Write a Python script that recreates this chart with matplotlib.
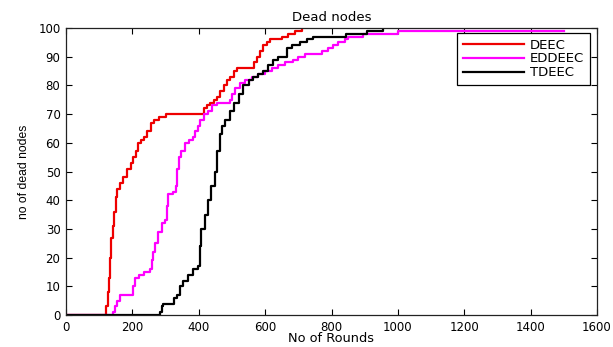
import matplotlib
matplotlib.use('Agg')
import matplotlib.pyplot as plt

# dead-node step curves (round, dead nodes)
deec_rounds = [0, 118, 122, 126, 130, 134, 137, 141, 145, 150, 155, 162, 172, 185, 195,
               202, 210, 218, 225, 235, 245, 255, 265, 280, 300, 410, 415, 425, 435,
               445, 455, 465, 475, 485, 495, 505, 515, 560, 565, 575, 585, 595, 605,
               615, 650, 670, 690, 710]
deec_dead = [0, 0, 3, 8, 13, 20, 27, 31, 36, 41, 44, 46, 48, 51, 53,
             55, 57, 60, 61, 62, 64, 67, 68, 69, 70, 70, 72, 73, 74,
             75, 76, 78, 80, 82, 83, 85, 86, 86, 88, 90, 92, 94, 95,
             96, 97, 98, 99, 100]

eddeec_rounds = [0, 142, 148, 155, 163, 198, 203, 208, 220, 235, 253, 258, 263, 268, 278,
                 288, 298, 303, 308, 323, 330, 333, 340, 348, 358, 370, 383, 390, 398,
                 403, 415, 428, 440, 454, 494, 500, 510, 524, 540, 560, 580, 600, 620,
                 640, 660, 685, 700, 720, 760, 770, 790, 805, 820, 840, 850, 870, 895,
                 960, 1000, 1500]
eddeec_dead = [0, 1, 3, 5, 7, 7, 10, 13, 14, 15, 16, 19, 22, 25, 29,
               32, 33, 38, 42, 43, 45, 51, 55, 57, 60, 61, 62, 64, 66,
               68, 70, 71, 73, 74, 75, 77, 79, 81, 82, 83, 84, 85, 86,
               87, 88, 89, 90, 91, 91, 92, 93, 94, 95, 96, 97, 97, 98,
               98, 99, 99]

tdeec_rounds = [0, 283, 288, 292, 318, 325, 333, 343, 353, 368, 383, 398, 403, 408, 418,
                428, 438, 449, 456, 464, 470, 480, 494, 505, 520, 534, 550, 564, 580,
                594, 610, 624, 640, 665, 680, 705, 725, 745, 800, 845, 906, 955]
tdeec_dead = [0, 1, 3, 4, 4, 6, 7, 10, 12, 14, 16, 17, 24, 30, 35,
              40, 45, 50, 57, 63, 66, 68, 71, 74, 77, 80, 82, 83, 84,
              85, 87, 89, 90, 93, 94, 95, 96, 97, 97, 98, 99, 100]

xticks = [0, 200, 400, 600, 800, 1000, 1200, 1400, 1600]
yticks = [0, 10, 20, 30, 40, 50, 60, 70, 80, 90, 100]

plt.rcParams['font.family'] = ['DejaVu Sans']
plt.rcParams['font.size'] = 8.5

fig = plt.figure(figsize=(6.13, 3.47), dpi=100)
ax = fig.add_axes([66 / 613, 32 / 347, 531 / 613, 287 / 347])

ax.plot(deec_rounds, deec_dead, drawstyle='steps-post', color='#ee0000', lw=1.6, label='DEEC')
ax.plot(eddeec_rounds, eddeec_dead, drawstyle='steps-post', color='#ff00ff', lw=1.6, label='EDDEEC')
ax.plot(tdeec_rounds, tdeec_dead, drawstyle='steps-post', color='black', lw=1.6, label='TDEEC')

ax.set_xlim(0, 1600)
ax.set_ylim(0, 100)
ax.set_xticks(xticks)
ax.set_yticks(yticks)
ax.tick_params(direction='in', length=4, width=0.8, top=True, right=True,
               labelsize=8.5, pad=4)
for s in ax.spines.values():
    s.set_linewidth(0.9)
    s.set_color('#222222')

ax.set_title('Dead nodes', fontsize=9.5, pad=5)
ax.set_xlabel('No of Rounds', fontsize=9.3, labelpad=-1)
ax.set_ylabel('no of dead nodes', fontsize=8.7, labelpad=6, family='Liberation Sans')

leg = ax.legend(loc='upper right', bbox_to_anchor=(0.987, 0.983), borderaxespad=0,
                fancybox=False, edgecolor='black', framealpha=1, fontsize=9.5,
                handlelength=4.6, handletextpad=0.45, labelspacing=0.05, borderpad=0.45)
leg.get_frame().set_linewidth(0.9)

plt.savefig('out.png', dpi=100)
